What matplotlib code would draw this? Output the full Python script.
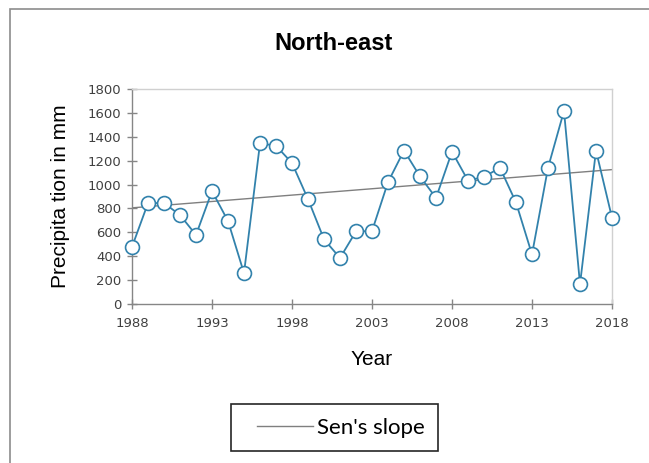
import matplotlib
matplotlib.use("Agg")
import matplotlib.pyplot as plt
from matplotlib.patches import Rectangle

# Annual precipitation, North-east region
years = list(range(1988, 2019))
precip = [478, 845, 845, 745, 578, 945, 695, 258, 1345, 1325, 1180, 878, 542, 385, 608, 610,
          1020, 1285, 1068, 888, 1275, 1033, 1065, 1140, 850, 415, 1140, 1617, 165, 1285, 722]

# Sen's slope trend line end points
trend_years = [1988, 2018]
trend_vals = [805, 1125]

x_ticks = [1988, 1993, 1998, 2003, 2008, 2013, 2018]
y_ticks = list(range(0, 1801, 200))

line_blue = "#3282AC"
axis_gray = "#868686"


def main():
    fig = plt.figure(figsize=(6.49, 4.63), dpi=100)
    W, H = 649, 463

    # Chart area frame (runs off the right and bottom edges)
    fig.patches.append(Rectangle((10 / W, -0.1), 1.2, 1 - 9 / H + 0.1,
                                 transform=fig.transFigure, fill=False,
                                 edgecolor="#8c8c8c", linewidth=1.2))

    ax = fig.add_axes([132 / W, 1 - 304 / H, 480 / W, 215 / H])

    ax.plot(years, precip, color=line_blue, linewidth=1.3, marker="o", markersize=10,
            markerfacecolor="white", markeredgecolor=line_blue, markeredgewidth=1.2,
            zorder=3, clip_on=False)
    ax.plot(trend_years, trend_vals, color="#7f7f7f", linewidth=1.0, label="Sen's slope",
            zorder=2)

    ax.set_xlim(1988, 2018)
    ax.set_ylim(0, 1800)
    ax.set_xticks(x_ticks)
    ax.set_yticks(y_ticks)

    for side in ["left", "bottom"]:
        ax.spines[side].set_color(axis_gray)
        ax.spines[side].set_linewidth(1.0)
    for side in ["top", "right"]:
        ax.spines[side].set_color("#d0d0d0")
        ax.spines[side].set_linewidth(1.0)

    ax.tick_params(axis="both", direction="inout", length=7, width=1.0, color=axis_gray,
                   labelsize=9.5, labelcolor="#404040")
    ax.tick_params(axis="x", pad=6)
    ax.tick_params(axis="y", pad=4)

    fig.text(334 / W, 1 - 43 / H, "North-east", ha="center", va="center",
             fontsize=17, fontweight="bold", family="Liberation Sans")

    ax.set_xlabel("Year", fontsize=15, family="Liberation Sans", labelpad=14)
    ax.set_ylabel("Precipita tion in mm", fontsize=15, family="Liberation Sans", labelpad=13)

    # Legend box drawn separately so the padding is uneven like the original
    fig.patches.append(Rectangle((231 / W, 1 - 451 / H), 207 / W, 47 / H,
                                 transform=fig.transFigure, fill=False,
                                 edgecolor="#262626", linewidth=1.2))
    fig.legend(loc="center left", bbox_to_anchor=(257 / W, 1 - 428 / H),
               frameon=False, borderpad=0, borderaxespad=0, handlelength=2.5,
               handletextpad=0.18, prop={"family": "Lato", "size": 16})

    plt.savefig("out.png", dpi=100)


if __name__ == "__main__":
    main()
